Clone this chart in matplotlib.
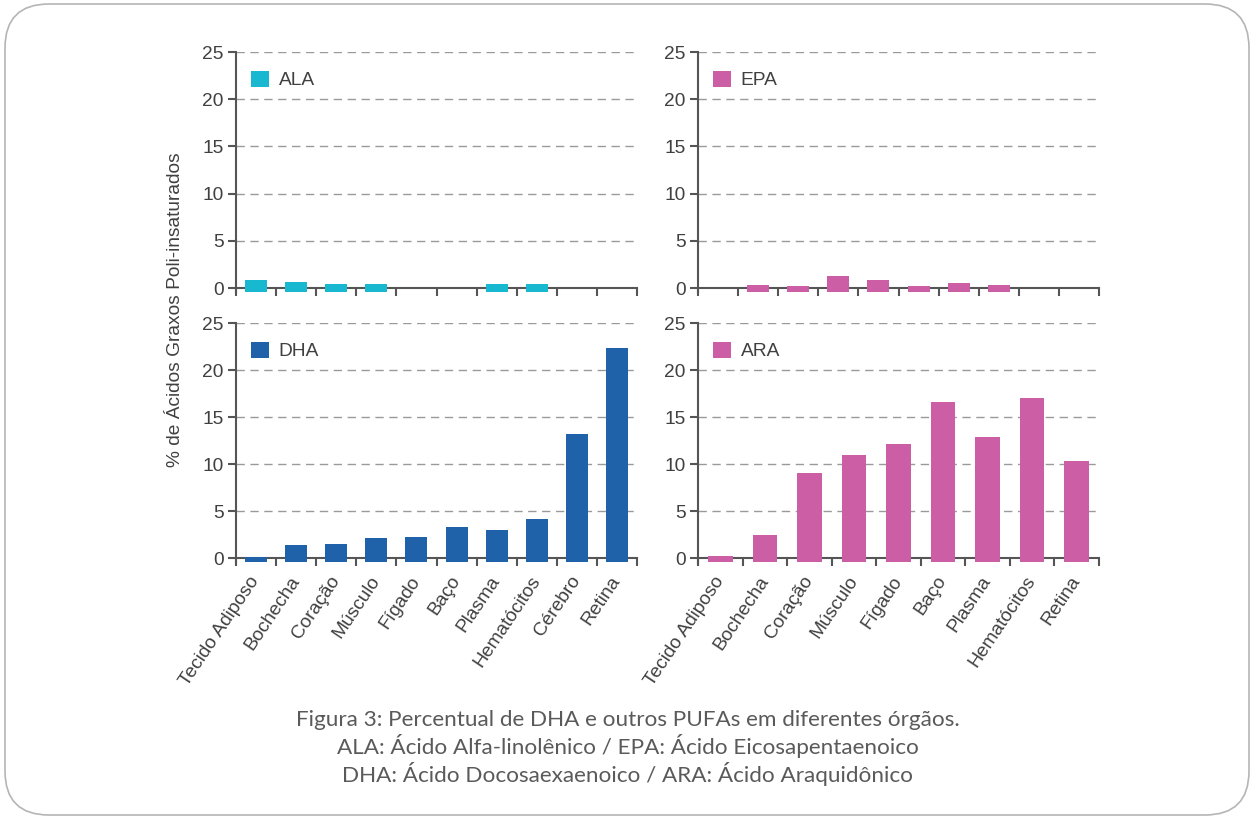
import numpy as np
import matplotlib.pyplot as plt
from matplotlib.patches import FancyBboxPatch

# =========================
# DATA
# =========================

orgaos = ["Tecido Adiposo", "Bochecha", "Coração", "Músculo", "Fígado",
          "Baço", "Plasma", "Hematócitos", "Cérebro", "Retina"]
orgaos_ara = ["Tecido Adiposo", "Bochecha", "Coração", "Músculo", "Fígado",
              "Baço", "Plasma", "Hematócitos", "Retina"]

ala = [0.9, 0.6, 0.4, 0.4, 0.0, 0.0, 0.4, 0.4, 0.0, 0.0]
epa = [0.0, 0.35, 0.25, 1.3, 0.85, 0.25, 0.55, 0.35, 0.0, 0.0]
dha = [0.1, 1.4, 1.5, 2.1, 2.2, 3.3, 3.0, 4.15, 13.2, 22.3]
ara = [0.2, 2.45, 9.0, 10.95, 12.1, 16.6, 12.9, 17.0, 10.3]

AZUL_CLARO = "#18b8d0"
AZUL = "#1f62aa"
ROSA = "#cc5ea6"
TEXTO = "#404040"
FONTE = 13.8

plt.rcParams["font.family"] = ["Liberation Sans", "DejaVu Sans"]

fig = plt.figure(figsize=(12.55, 8.18), dpi=100)

# moldura arredondada
fig.patches.append(FancyBboxPatch(
    (5 / 1255, 3 / 818), 1244 / 1255, 811 / 818,
    boxstyle="round,pad=0,rounding_size=0.035",
    transform=fig.transFigure, facecolor="none", zorder=-1,
    edgecolor="#b5b5b5", linewidth=1.2, mutation_aspect=1255 / 818))

BASE = -0.4  # barras começam um pouco abaixo do eixo


def painel(pos, cats, valores, cor, nome, labels):
    ax = fig.add_axes(pos)
    ax.patch.set_alpha(0)
    n = len(cats)
    x = np.arange(n) + 0.5
    vals = np.array(valores)
    desenha = vals > 0.05
    ax.bar(x[desenha], vals[desenha] - BASE, bottom=BASE, width=0.55,
           color=cor, zorder=3, label=nome)
    ax.set_xlim(0, n)
    ax.set_ylim(-0.5, 25)

    for v in [5, 10, 15, 20, 25]:
        ax.axhline(v, color="#9a9a9a", lw=1.0, ls=(0, (6, 4)), zorder=1)

    for s in ["top", "right"]:
        ax.spines[s].set_visible(False)
    ax.spines["bottom"].set_position(("data", 0))
    ax.spines["left"].set_bounds(-0.5, 25)
    for s in ["bottom", "left"]:
        ax.spines[s].set_color("#555555")
        ax.spines[s].set_linewidth(1.5)

    ax.set_yticks([0, 5, 10, 15, 20, 25])
    ax.tick_params(axis="y", length=6, width=1.5, color="#555555",
                   labelsize=FONTE, labelcolor=TEXTO, pad=3)

    ax.set_xticks(np.arange(n + 1))
    ax.set_xticklabels([])
    ax.tick_params(axis="x", which="major", length=6, width=1.5,
                   color="#555555", direction="out")
    ax.set_xticks(x, minor=True)
    if labels:
        ax.set_xticklabels(cats, minor=True, rotation=56, ha="right",
                           va="center", rotation_mode="anchor",
                           fontsize=FONTE, color=TEXTO)
    ax.tick_params(axis="x", which="minor", length=0, pad=14)

    leg = ax.legend(loc="upper left", frameon=False, fontsize=FONTE,
                    handlelength=0.95, handleheight=0.95, handletextpad=0.5,
                    borderaxespad=0.0, bbox_to_anchor=(0.018, 0.955))
    for t in leg.get_texts():
        t.set_color(TEXTO)
    return ax


esq, dir_, larg = 236 / 1255, 698 / 1255, 401 / 1255
alt = 0.2944
painel([esq, 0.642, larg, alt], orgaos, ala, AZUL_CLARO, "ALA", False)
painel([dir_, 0.642, larg, alt], orgaos, epa, ROSA, "EPA", False)
painel([esq, 0.312, larg, 0.293], orgaos, dha, AZUL, "DHA", True)
painel([dir_, 0.312, larg, 0.293], orgaos_ara, ara, ROSA, "ARA", True)

fig.text(0.140, 1 - 310 / 818, "% de Ácidos Graxos Poli-insaturados",
         rotation=90, ha="center", va="center", fontsize=FONTE, color=TEXTO)

legenda = ("Figura 3: Percentual de DHA e outros PUFAs em diferentes órgãos.\n"
           "ALA: Ácido Alfa-linolênico / EPA: Ácido Eicosapentaenoico\n"
           "DHA: Ácido Docosaexaenoico / ARA: Ácido Araquidônico")
fig.text(0.5, 1 - 748 / 818, legenda, ha="center", va="center",
         fontsize=16.2, color="#5a5a5a", linespacing=1.2,
         family=["Lato", "DejaVu Sans"])

fig.savefig("out.png", dpi=100)
